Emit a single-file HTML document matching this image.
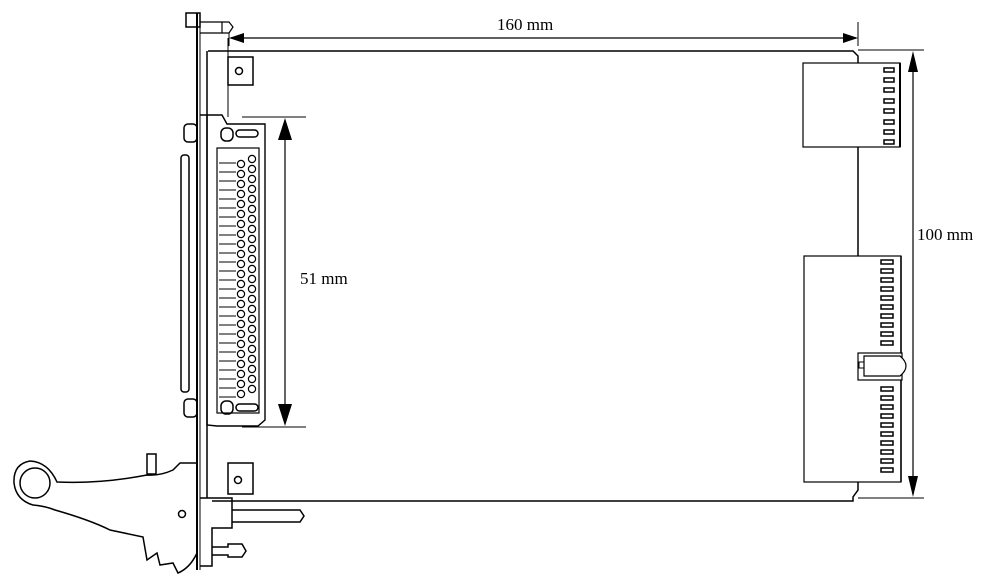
<!DOCTYPE html>
<html><head><meta charset="utf-8"><style>
html,body{margin:0;padding:0;background:#fff;width:1000px;height:587px;overflow:hidden}
text{font-family:"Liberation Serif",serif;font-size:17px;fill:#000;stroke:none}
</style></head><body>
<svg width="1000" height="587" viewBox="0 0 1000 587" xmlns="http://www.w3.org/2000/svg" fill="none" stroke="#000" stroke-width="1.5">
<!-- board -->
<path d="M208,51 H853 L858,56 V490 L853,497 V501 H212"/>
<!-- 160 mm -->
<line x1="858" y1="22" x2="858" y2="46" stroke-width="1"/>
<line x1="229" y1="33" x2="229" y2="46" stroke-width="1"/>
<line x1="231" y1="38" x2="856" y2="38" stroke-width="1.2"/>
<path d="M229,38 L244,33 L244,43z M858,38 L843,33 L843,43z" fill="#000" stroke="none"/>
<text x="497" y="30">160 mm</text>
<!-- 100 mm -->
<line x1="858" y1="50" x2="924" y2="50" stroke-width="1"/>
<line x1="858" y1="498" x2="924" y2="498" stroke-width="1"/>
<line x1="913" y1="55" x2="913" y2="494" stroke-width="1.2"/>
<path d="M913,51 L908,72 L918,72z M913,497 L908,476 L918,476z" fill="#000" stroke="none"/>
<text x="917" y="240">100 mm</text>
<!-- 51 mm -->
<line x1="242" y1="117" x2="306" y2="117" stroke-width="1"/>
<line x1="242" y1="427" x2="306" y2="427" stroke-width="1"/>
<line x1="285" y1="122" x2="285" y2="422" stroke-width="1.2"/>
<path d="M285,118 L278,140 L292,140z M285,426 L278,404 L292,404z" fill="#000" stroke="none"/>
<text x="300" y="284">51 mm</text>
<!-- front panel -->
<rect x="186" y="13" width="14" height="14" />
<line x1="197" y1="13" x2="197" y2="570" stroke-width="2"/>
<line x1="200" y1="13" x2="200" y2="570" stroke-width="1"/>
<line x1="207" y1="51" x2="207" y2="498" stroke-width="1.5"/>
<line x1="228" y1="38" x2="228" y2="117" stroke-width="1"/>
<path d="M200,22 H222 M200,33 H222 M222,22 V33 M222,22 H229 L233,27 L229,33 H222" stroke-width="1.2"/>
<!-- top mount -->
<rect x="228" y="57" width="25" height="28"/>
<circle cx="239" cy="71" r="3.5"/>
<!-- D-sub shell -->
<rect x="181" y="155" width="8" height="237" rx="3"/>
<rect x="184" y="124" width="13" height="18" rx="4"/>
<rect x="184" y="399" width="13" height="18" rx="4"/>
<!-- connector -->
<path d="M200,115 H222 L227,124 H265 V420 L258,426 H217 L207,425 V115" stroke-width="1.4"/>
<rect x="217" y="148" width="42" height="265" stroke-width="1.2"/>
<rect x="221" y="128" width="12" height="13" rx="5"/>
<rect x="236" y="130" width="22" height="7" rx="3.5"/>
<rect x="221" y="401" width="12" height="13" rx="5"/>
<rect x="236" y="404" width="22" height="7" rx="3.5"/>
<g stroke-width="1">
<path d="M219,163H236M219,172H236M219,181H236M219,190H236M219,199H236M219,208H236M219,217H236M219,226H236M219,235H236M219,244H236M219,253H236M219,262H236M219,271H236M219,280H236M219,289H236M219,298H236M219,307H236M219,316H236M219,325H236M219,334H236M219,343H236M219,352H236M219,361H236M219,370H236M219,379H236M219,388H236M219,397H236"/>
</g>
<g stroke-width="1.2" fill="#fff">
<circle cx="241" cy="164" r="3.6"/><circle cx="241" cy="174" r="3.6"/><circle cx="241" cy="184" r="3.6"/><circle cx="241" cy="194" r="3.6"/><circle cx="241" cy="204" r="3.6"/><circle cx="241" cy="214" r="3.6"/><circle cx="241" cy="224" r="3.6"/><circle cx="241" cy="234" r="3.6"/><circle cx="241" cy="244" r="3.6"/><circle cx="241" cy="254" r="3.6"/><circle cx="241" cy="264" r="3.6"/><circle cx="241" cy="274" r="3.6"/><circle cx="241" cy="284" r="3.6"/><circle cx="241" cy="294" r="3.6"/><circle cx="241" cy="304" r="3.6"/><circle cx="241" cy="314" r="3.6"/><circle cx="241" cy="324" r="3.6"/><circle cx="241" cy="334" r="3.6"/><circle cx="241" cy="344" r="3.6"/><circle cx="241" cy="354" r="3.6"/><circle cx="241" cy="364" r="3.6"/><circle cx="241" cy="374" r="3.6"/><circle cx="241" cy="384" r="3.6"/><circle cx="241" cy="394" r="3.6"/>
<circle cx="252" cy="159" r="3.6"/><circle cx="252" cy="169" r="3.6"/><circle cx="252" cy="179" r="3.6"/><circle cx="252" cy="189" r="3.6"/><circle cx="252" cy="199" r="3.6"/><circle cx="252" cy="209" r="3.6"/><circle cx="252" cy="219" r="3.6"/><circle cx="252" cy="229" r="3.6"/><circle cx="252" cy="239" r="3.6"/><circle cx="252" cy="249" r="3.6"/><circle cx="252" cy="259" r="3.6"/><circle cx="252" cy="269" r="3.6"/><circle cx="252" cy="279" r="3.6"/><circle cx="252" cy="289" r="3.6"/><circle cx="252" cy="299" r="3.6"/><circle cx="252" cy="309" r="3.6"/><circle cx="252" cy="319" r="3.6"/><circle cx="252" cy="329" r="3.6"/><circle cx="252" cy="339" r="3.6"/><circle cx="252" cy="349" r="3.6"/><circle cx="252" cy="359" r="3.6"/><circle cx="252" cy="369" r="3.6"/><circle cx="252" cy="379" r="3.6"/><circle cx="252" cy="389" r="3.6"/>
</g>
<!-- bottom mount -->
<rect x="228" y="463" width="25" height="31"/>
<circle cx="238" cy="480" r="3.5"/>
<!-- bottom block -->
<path d="M200,498 H232 V528 H212 V566 H200"/>
<path d="M232,510 H300 L304,516 L300,522 H232"/>
<path d="M212,547 H228 V544 H242 L246,551 L242,557 H228 V555 H212"/>
<!-- handle -->
<path d="M197,463 H180 L173,470 Q160,476 147,475 Q100,484 57,482 Q48,462 30,461 Q13,464 14,483 Q16,500 33,505 Q45,506 55,510 Q90,520 110,530 L143,537 L147,560 L157,553 L160,565 L173,563 L178,573 Q190,568 197,553"/>
<circle cx="35" cy="483" r="15"/>
<rect x="147" y="454" width="9" height="20"/>
<circle cx="182" cy="514" r="3.5"/>
<!-- right connectors -->
<rect x="803" y="63" width="97" height="84" fill="#fff" stroke-width="1.2"/>
<line x1="900" y1="63" x2="900" y2="147" stroke-width="2"/>
<g stroke-width="1.5">
<rect x="884" y="68" width="10" height="4"/><rect x="884" y="78" width="10" height="4"/><rect x="884" y="88" width="10" height="4"/><rect x="884" y="99" width="10" height="4"/><rect x="884" y="109" width="10" height="4"/><rect x="884" y="120" width="10" height="4"/><rect x="884" y="130" width="10" height="4"/><rect x="884" y="140" width="10" height="4"/>
</g>
<rect x="804" y="256" width="97" height="226" fill="#fff" stroke-width="1.2"/>
<line x1="901" y1="256" x2="901" y2="482" stroke-width="1.5"/>
<g stroke-width="1.5">
<rect x="881" y="260" width="12" height="4"/><rect x="881" y="269" width="12" height="4"/><rect x="881" y="278" width="12" height="4"/><rect x="881" y="287" width="12" height="4"/><rect x="881" y="296" width="12" height="4"/><rect x="881" y="305" width="12" height="4"/><rect x="881" y="314" width="12" height="4"/><rect x="881" y="323" width="12" height="4"/><rect x="881" y="332" width="12" height="4"/><rect x="881" y="341" width="12" height="4"/>
<rect x="881" y="387" width="12" height="4"/><rect x="881" y="396" width="12" height="4"/><rect x="881" y="405" width="12" height="4"/><rect x="881" y="414" width="12" height="4"/><rect x="881" y="423" width="12" height="4"/><rect x="881" y="432" width="12" height="4"/><rect x="881" y="441" width="12" height="4"/><rect x="881" y="450" width="12" height="4"/><rect x="881" y="459" width="12" height="4"/><rect x="881" y="468" width="12" height="4"/>
</g>
<rect x="858" y="353" width="44" height="27" fill="#fff" stroke-width="1.2"/>
<path d="M864,356 H900 Q912,366 900,376 H864z" fill="#fff" stroke-width="1.2"/>
<rect x="859" y="362" width="5" height="6" stroke-width="1"/>
</svg>
</body></html>
